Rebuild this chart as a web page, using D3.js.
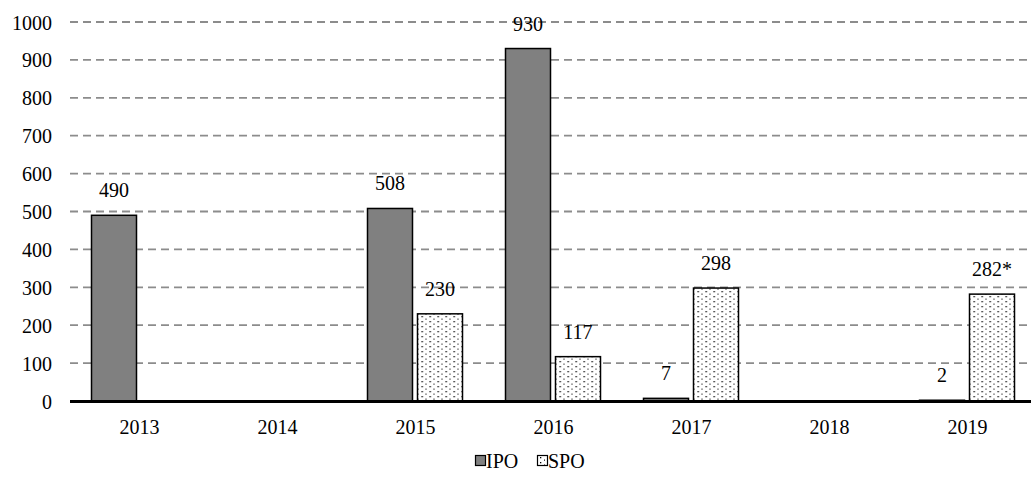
<!DOCTYPE html>
<html><head><meta charset="utf-8">
<script src="https://d3js.org/d3.v7.min.js"></script>
<style>body{margin:0;background:#fff;}svg{display:block;font-family:"Liberation Serif","Times New Roman",serif;}</style>
</head><body>
<svg id="c" width="1031" height="485"></svg>
<script>
const years = ["2013","2014","2015","2016","2017","2018","2019"];
const series = ["IPO","SPO"];
const ipo = [490, null, 508, 930, 7, null, 2];
const spo = [null, null, 230, 117, 298, null, 282];
const spoLabels = [null, null, "230", "117", "298", null, "282*"];
const yTicks = [0,100,200,300,400,500,600,700,800,900,1000];

const svg = d3.select("#c");
const defs = svg.append("defs");
const pat = defs.append("pattern").attr("id","dots").attr("patternUnits","userSpaceOnUse")
  .attr("width",8).attr("height",10);
pat.append("rect").attr("width",8).attr("height",10).attr("fill","#fff");
pat.append("rect").attr("x",3).attr("y",1).attr("width",1.3).attr("height",1.3).attr("fill","#000");
pat.append("rect").attr("x",3).attr("y",6).attr("width",1.3).attr("height",1.3).attr("fill","#000");
pat.append("rect").attr("x",7).attr("y",3.5).attr("width",1.3).attr("height",1.3).attr("fill","#222");
pat.append("rect").attr("x",7).attr("y",8.5).attr("width",1.3).attr("height",1.3).attr("fill","#222");

const x0 = d3.scaleBand().domain(years).range([70.5, 1036.5]).padding(0);
const x1 = d3.scaleBand().domain(series).range([21, 116]).paddingInner(0.1);
const y = d3.scaleLinear().domain([0,1000]).range([401, 22]);

// gridlines
svg.append("g").selectAll("line").data(yTicks.filter(d=>d>0)).join("line")
  .attr("x1",70).attr("x2",1031).attr("y1",d=>y(d)).attr("y2",d=>y(d))
  .attr("stroke","#8c8c8c").attr("stroke-width",1.8).attr("stroke-dasharray","8,5");

// y axis labels
const yAxis = d3.axisLeft(y).tickValues(yTicks).tickFormat(d3.format("d")).tickSize(0).tickPadding(0);
const ya = svg.append("g").attr("transform","translate(52,0)").call(yAxis);
ya.attr("font-family",null);
ya.select(".domain").remove();
ya.selectAll("text").attr("font-size",20).attr("fill","#000").attr("dy","0.35em");

const data = years.map((yr,i)=>({yr, vals:[{s:"IPO",v:ipo[i],lab:ipo[i]==null?null:String(ipo[i])},{s:"SPO",v:spo[i],lab:spoLabels[i]}]}));

const g = svg.append("g");
const grp = g.selectAll("g").data(data).join("g").attr("transform",d=>`translate(${x0(d.yr)},0)`);
grp.selectAll("rect").data(d=>d.vals.filter(v=>v.v!=null)).join("rect")
  .attr("x",d=>x1(d.s)).attr("width",x1.bandwidth())
  .attr("y",d=>y(d.v)).attr("height",d=>y(0)-y(d.v))
  .attr("fill",d=>d.s==="IPO"?"#808080":"url(#dots)")
  .attr("stroke","#000").attr("stroke-width",1.5);
grp.selectAll("text").data(d=>d.vals.filter(v=>v.v!=null)).join("text")
  .attr("x",d=>x1(d.s)+x1.bandwidth()/2).attr("y",d=>y(d.v)-18)
  .attr("text-anchor","middle").attr("font-size",20).attr("fill","#000")
  .text(d=>d.lab);

// x axis
const xAxis = d3.axisBottom(x0).tickSize(0).tickPadding(0);
const xa = svg.append("g").attr("transform",`translate(0,${y(0)})`).call(xAxis);
xa.attr("font-family",null);
xa.select(".domain").remove();
xa.selectAll("text").attr("font-size",20).attr("fill","#000").attr("dy","33").attr("y",0);
svg.append("line").attr("x1",70).attr("x2",1031).attr("y1",y(0)+0.5).attr("y2",y(0)+0.5)
  .attr("stroke","#000").attr("stroke-width",3);

// legend
const leg = svg.append("g").attr("transform","translate(475,461)");
const items = [{s:"IPO",fill:"#808080",x:0},{s:"SPO",fill:"url(#dots)",x:62}];
const li = leg.selectAll("g").data(items).join("g").attr("transform",d=>`translate(${d.x},0)`);
li.append("rect").attr("x",0.5).attr("y",-5.5).attr("width",10).attr("height",10)
  .attr("fill",d=>d.fill).attr("stroke","#000").attr("stroke-width",1.2);
li.append("text").attr("x",11).attr("y",7).attr("font-size",20).attr("fill","#000").text(d=>d.s);
</script>
</body></html>
